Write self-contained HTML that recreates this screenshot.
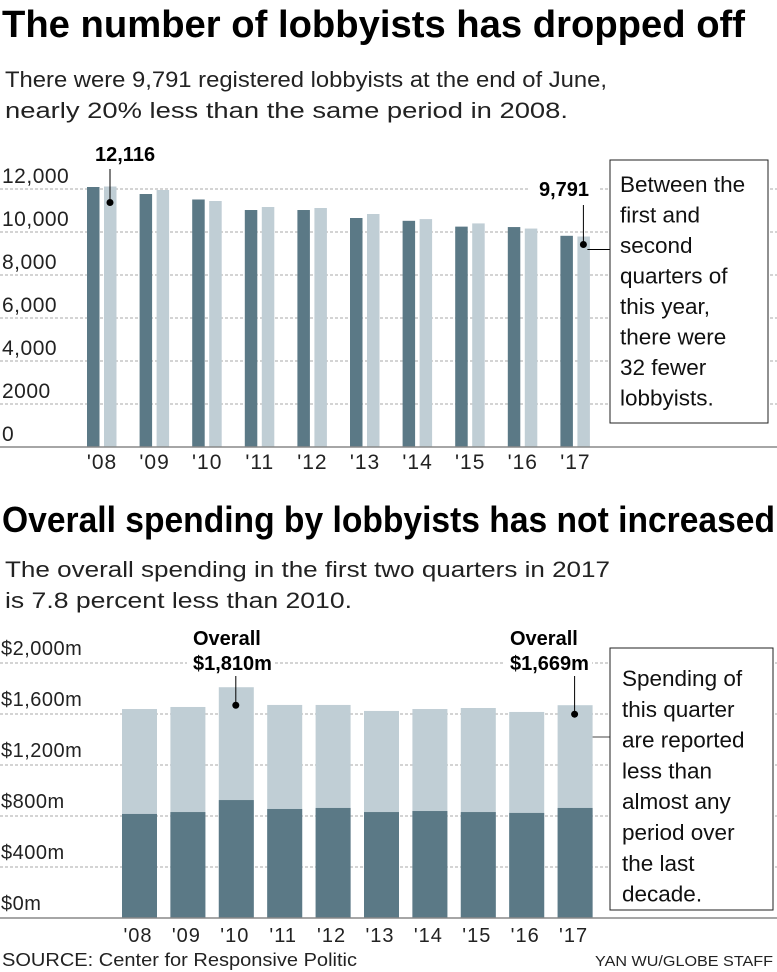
<!DOCTYPE html>
<html><head><meta charset="utf-8"><style>
body{margin:0;background:#fff}
svg{display:block;font-family:"Liberation Sans",sans-serif}
</style></head><body>
<svg width="777" height="972" viewBox="0 0 777 972">
<text x="2" y="37" font-size="38" font-weight="bold" textLength="743" lengthAdjust="spacingAndGlyphs">The number of lobbyists has dropped off</text>
<text x="5" y="87" font-size="22" fill="#222" textLength="602" lengthAdjust="spacingAndGlyphs">There were 9,791 registered lobbyists at the end of June,</text>
<text x="5" y="118" font-size="22" fill="#222" textLength="563" lengthAdjust="spacingAndGlyphs">nearly 20% less than the same period in 2008.</text>
<g id="c1"></g>
<text x="2" y="532" font-size="36" font-weight="bold" textLength="773" lengthAdjust="spacingAndGlyphs">Overall spending by lobbyists has not increased</text>
<text x="5" y="577" font-size="22" fill="#222" textLength="605" lengthAdjust="spacingAndGlyphs">The overall spending in the first two quarters in 2017</text>
<text x="5" y="608" font-size="22" fill="#222" textLength="347" lengthAdjust="spacingAndGlyphs">is 7.8 percent less than 2010.</text>
<g id="c2"></g>
<text x="2" y="966" font-size="18" fill="#222" textLength="355" lengthAdjust="spacingAndGlyphs">SOURCE: Center for Responsive Politic</text>
<text x="773" y="966" font-size="15" fill="#222" text-anchor="end" textLength="178" lengthAdjust="spacingAndGlyphs">YAN WU/GLOBE STAFF</text>
</svg>
<script>
const years=["'08","'09","'10","'11","'12","'13","'14","'15","'16","'17"];
const q1Lobbyists=[12093,11767,11512,11023,11023,10651,10520,10250,10230,9823];
const q2Lobbyists=[12116,11953,11442,11163,11116,10837,10600,10400,10160,9791];
const yTicks1=[0,2000,4000,6000,8000,10000,12000];
const yTickLabels1=["0","2000","4,000","6,000","8,000","10,000","12,000"];
const q1Spending=[816,831,925,855,863,831,839,831,824,863];
const totalSpending=[1639,1655,1810,1671,1671,1624,1639,1647,1616,1669];
const yTicks2=[0,400,800,1200,1600,2000];
const yTickLabels2=["$0m","$400m","$800m","$1,200m","$1,600m","$2,000m"];
const NS="http://www.w3.org/2000/svg";
function mk(p,t,a,txt){const e=document.createElementNS(NS,t);for(const k in a)e.setAttribute(k,a[k]);if(txt!==undefined)e.textContent=txt;p.appendChild(e);return e;}
const DARK="#5b7986",LIGHT="#c0ced5";
// chart 1
const c1=document.getElementById('c1');
const y1=v=>447-v*0.0215;
const x1=i=>87+i*52.6;
yTicks1.forEach((t,i)=>{
 if(t>0){const g=mk(c1,'line',{x1:0,x2:777,y1:y1(t),y2:y1(t),stroke:"#aaa","stroke-dasharray":"3,2"});
 
 }
 const l=mk(c1,'text',{x:2,y:y1(t)-6,"font-size":21,fill:"#222","letter-spacing":"0.5"},yTickLabels1[i]);
 
 
});
years.forEach((yr,i)=>{
 const a=mk(c1,'rect',{x:x1(i),y:y1(q1Lobbyists[i]),width:12.5,height:447-y1(q1Lobbyists[i]),fill:DARK});
 
 
 const b=mk(c1,'rect',{x:x1(i)+17,y:y1(q2Lobbyists[i]),width:12.5,height:447-y1(q2Lobbyists[i]),fill:LIGHT});
 
 
 const l=mk(c1,'text',{x:x1(i)+15,y:469,"font-size":21,"text-anchor":"middle",fill:"#222","letter-spacing":"1"},yr);
 
 
});
mk(c1,'line',{x1:0,x2:777,y1:447,y2:447,stroke:"#888","stroke-width":1.5});
const a1x=x1(0)+23,a1y=y1(q2Lobbyists[0])+16;
mk(c1,'line',{x1:a1x,x2:a1x,y1:169,y2:a1y,stroke:"#000"});
mk(c1,'circle',{cx:a1x,cy:a1y,r:3.5,fill:"#000"});
mk(c1,'text',{x:95,y:161,"font-size":20,"font-weight":"bold"},"12,116");
const a2x=x1(9)+23,a2y=y1(q2Lobbyists[9])+8;
mk(c1,'rect',{x:530,y:174,width:70,height:28,fill:"#fff"});
mk(c1,'text',{x:539,y:196,"font-size":20,"font-weight":"bold"},"9,791");
mk(c1,'line',{x1:a2x,x2:a2x,y1:205,y2:a2y,stroke:"#000"});
mk(c1,'circle',{cx:a2x,cy:a2y,r:3.5,fill:"#000"});
mk(c1,'line',{x1:a2x+4,x2:610,y1:a2y+5,y2:a2y+5,stroke:"#000"});
mk(c1,'rect',{x:610,y:160,width:158,height:263,fill:"#fff",stroke:"#222","stroke-width":1});
["Between the","first and","second","quarters of","this year,","there were","32 fewer","lobbyists."].forEach((s,i)=>{
 mk(c1,'text',{x:620,y:192+i*30.5,"font-size":22.5,fill:"#111"},s);
});
// chart 2
const c2=document.getElementById('c2');
const y2=v=>918-v*0.1275;
const x2=i=>122+i*48.4;
yTicks2.forEach((t,i)=>{
 if(t>0){const g=mk(c2,'line',{x1:0,x2:777,y1:y2(t),y2:y2(t),stroke:"#aaa","stroke-dasharray":"3,2"});
 
 }
 const l=mk(c2,'text',{x:1,y:y2(t)-8,"font-size":20,fill:"#222","letter-spacing":"0.5"},yTickLabels2[i]);
 
 
});
years.forEach((yr,i)=>{
 const b=mk(c2,'rect',{x:x2(i),y:y2(totalSpending[i]),width:35,height:918-y2(totalSpending[i]),fill:LIGHT});
 
 
 const a=mk(c2,'rect',{x:x2(i),y:y2(q1Spending[i]),width:35,height:918-y2(q1Spending[i]),fill:DARK});
 
 
 const l=mk(c2,'text',{x:x2(i)+16,y:942,"font-size":20,"text-anchor":"middle",fill:"#222","letter-spacing":"1"},yr);
 
 
});
mk(c2,'line',{x1:0,x2:777,y1:918,y2:918,stroke:"#888","stroke-width":1.5});
function overall(txt,lx){
 mk(c2,'rect',{x:lx-6,y:626,width:88,height:50,fill:"#fff"});
 mk(c2,'text',{x:lx,y:645,"font-size":20,"font-weight":"bold"},"Overall");
 mk(c2,'text',{x:lx,y:670,"font-size":20,"font-weight":"bold"},txt);
}
overall("$1,810m",193);
overall("$1,669m",510);
const d1x=x2(2)+17,d1y=y2(totalSpending[2])+18;
mk(c2,'line',{x1:d1x,x2:d1x,y1:676,y2:d1y,stroke:"#000"});
mk(c2,'circle',{cx:d1x,cy:d1y,r:3.5,fill:"#000"});
const d2x=x2(9)+17,d2y=y2(totalSpending[9])+9;
mk(c2,'line',{x1:d2x,x2:d2x,y1:676,y2:d2y,stroke:"#000"});
mk(c2,'circle',{cx:d2x,cy:d2y,r:3.5,fill:"#000"});
mk(c2,'line',{x1:x2(9)+35,x2:610,y1:737,y2:737,stroke:"#444"});
mk(c2,'rect',{x:610,y:648,width:163,height:262,fill:"#fff",stroke:"#222","stroke-width":1});
["Spending of","this quarter","are reported","less than","almost any","period over","the last","decade."].forEach((s,i)=>{
 mk(c2,'text',{x:622,y:686+i*30.8,"font-size":22.5,fill:"#111"},s);
});
</script>
</body></html>
